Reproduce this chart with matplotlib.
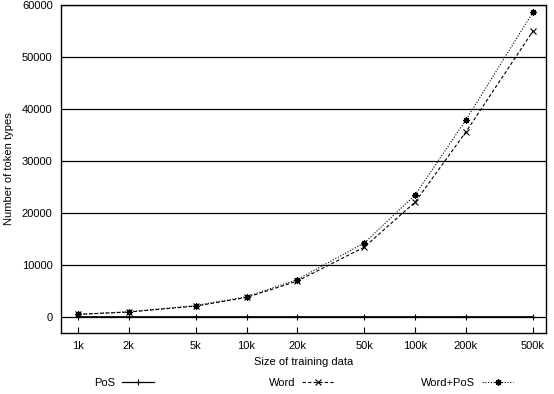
import matplotlib
matplotlib.use("Agg")
import matplotlib.pyplot as plt
import numpy as np

plt.rcParams['font.family'] = ['Liberation Sans', 'DejaVu Sans']
plt.rcParams['font.size'] = 8

sizes = [1000, 2000, 5000, 10000, 20000, 50000, 100000, 200000, 500000]
size_labels = ['1k', '2k', '5k', '10k', '20k', '50k', '100k', '200k', '500k']
pos_types = [40, 42, 44, 45, 45, 45, 45, 45, 45]
word_types = [500, 950, 2100, 3750, 6900, 13450, 22100, 35600, 55000]
wordpos_types = [520, 1000, 2200, 3900, 7200, 14250, 23500, 37900, 58650]

star = (8, 2, 0)

fig = plt.figure(figsize=(5.54, 3.94), dpi=100)
ax = fig.add_axes([61/554, 1-333/394, 485/554, 328/394])

for y in range(0, 60001, 10000):
    ax.axhline(y, color='black', lw=0.9, zorder=1)

ax.plot(sizes, pos_types, color='black', lw=0.9, marker='+', ms=5, mew=0.8, label='PoS')
ax.plot(sizes, word_types, color='black', lw=0.8, ls=(0, (3, 2)), marker='x', ms=4, mew=0.8, label='Word')
ax.plot(sizes, wordpos_types, color='black', lw=0.8, ls=(0, (1, 1.5)), marker=star, ms=4.5, mew=0.9, label='Word+PoS')

ax.set_xscale('log')
ax.set_xlim(794, 597000)
ax.set_ylim(-3080, 60000)
ax.set_xticks(sizes)
ax.set_xticklabels(size_labels)
ax.minorticks_off()
ax.set_yticks(range(0, 60001, 10000))
ax.tick_params(axis='x', direction='in', length=4, width=0.8, pad=6)
ax.tick_params(axis='y', direction='in', length=0, pad=6)
for s in ax.spines.values():
    s.set_linewidth(1.0)

ax.set_xlabel('Size of training data', labelpad=4)
ax.set_ylabel('Number of token types', labelpad=6)

handles, labels = ax.get_legend_handles_labels()
anchors = [(124/554, 1-383/394), (301/554, 1-383/394), (467/554, 1-383/394)]
for h, l, a in zip(handles, labels, anchors):
    fig.legend([h], [l], loc='center', bbox_to_anchor=a, markerfirst=False,
               frameon=False, handlelength=2.8, handletextpad=0.63,
               borderaxespad=0, borderpad=0)

fig.savefig('out.png', dpi=100)
